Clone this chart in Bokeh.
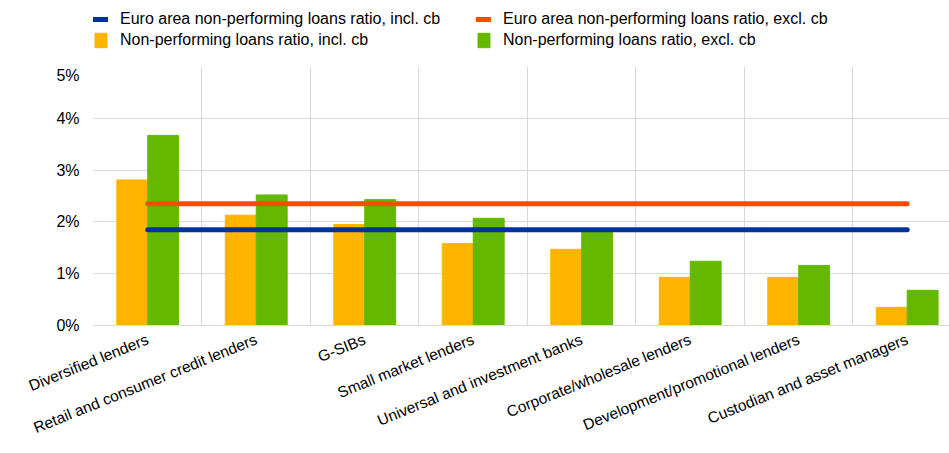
import math
from bokeh.plotting import figure
from bokeh.layouts import column
from bokeh.models import (Range1d, FixedTicker, PrintfTickFormatter, Legend, LegendItem,
                          ColumnDataSource)
from bokeh.embed import file_html
from bokeh.resources import INLINE

categories = ["Diversified lenders", "Retail and consumer credit lenders", "G-SIBs",
              "Small market lenders", "Universal and investment banks",
              "Corporate/wholesale lenders", "Development/promotional lenders",
              "Custodian and asset managers"]
npl_incl = [2.81, 2.13, 1.95, 1.58, 1.47, 0.93, 0.93, 0.35]
npl_excl = [3.67, 2.52, 2.43, 2.07, 1.82, 1.24, 1.16, 0.68]
ea_incl = 1.85
ea_excl = 2.35
y_ticks = [0, 1, 2, 3, 4, 5]
series_labels = ["Euro area non-performing loans ratio, incl. cb",
                 "Euro area non-performing loans ratio, excl. cb",
                 "Non-performing loans ratio, incl. cb",
                 "Non-performing loans ratio, excl. cb"]

FONT = "Liberation Sans"
GRID = "#d9d9d9"
C_EA_INCL, C_EA_EXCL, C_INCL, C_EXCL = "#003299", "#FF4B00", "#FFB400", "#65B800"
n = len(categories)
idx = list(range(n))
bar_w = 0.285

src = ColumnDataSource(dict(
    x_incl=[i + 0.5 - bar_w / 2 for i in idx],
    x_excl=[i + 0.5 + bar_w / 2 for i in idx],
    incl=npl_incl, excl=npl_excl))
line_x = [0.5, n - 0.5]


def draw(fig):
    """Draw the four series into a figure; returns their renderers."""
    rb1 = fig.vbar(x="x_incl", top="incl", width=bar_w, source=src,
                   fill_color=C_INCL, line_color=C_INCL)
    rb2 = fig.vbar(x="x_excl", top="excl", width=bar_w, source=src,
                   fill_color=C_EXCL, line_color=C_EXCL)
    rl1 = fig.line(x=line_x, y=[ea_incl] * 2, line_color=C_EA_INCL, line_width=5,
                   line_cap="round")
    rl2 = fig.line(x=line_x, y=[ea_excl] * 2, line_color=C_EA_EXCL, line_width=5,
                   line_cap="round")
    return rl1, rl2, rb1, rb2


p = figure(width=949, height=387, output_backend="svg", toolbar_location=None,
           x_range=Range1d(0, 7.89), y_range=Range1d(0, 5),
           min_border_left=93, min_border_right=0, min_border_top=0, min_border_bottom=128)
p.outline_line_color = None
draw(p)

# axes
p.xaxis.ticker = FixedTicker(ticks=[i + 0.5 for i in idx])
p.xaxis.major_label_overrides = {i + 0.5: c for i, c in zip(idx, categories)}
p.xaxis.major_label_orientation = math.radians(22)
p.xaxis.axis_line_color = GRID
p.xaxis.major_tick_line_color = None
p.xaxis.minor_tick_line_color = None
p.xaxis.major_tick_out = 0
p.xaxis.major_label_standoff = 13
p.xaxis.major_label_text_font = FONT
p.xaxis.major_label_text_font_size = "15.5px"
p.xaxis.major_label_text_color = "black"

p.yaxis.ticker = FixedTicker(ticks=y_ticks)
p.yaxis.formatter = PrintfTickFormatter(format="%d%%")
p.yaxis.axis_line_color = None
p.yaxis.major_tick_line_color = None
p.yaxis.minor_tick_line_color = None
p.yaxis.major_tick_out = 0
p.yaxis.major_label_standoff = 14
p.yaxis.major_label_text_font = FONT
p.yaxis.major_label_text_font_size = "16px"
p.yaxis.major_label_text_color = "black"

p.xgrid.ticker = FixedTicker(ticks=list(range(n + 1)))
p.xgrid.grid_line_color = GRID
p.ygrid.grid_line_color = GRID

# legend strip above the chart (its own copies of the series lie outside its view)
lg = figure(width=949, height=66, output_backend="svg", toolbar_location=None,
            x_range=Range1d(-20, -19), y_range=Range1d(-20, -19),
            x_axis_location=None, y_axis_location=None,
            min_border_left=93, min_border_right=0, min_border_top=0, min_border_bottom=0)
lg.outline_line_color = None
lg.grid.visible = False
g = draw(lg)

legend = Legend(items=[LegendItem(label=l, renderers=[r]) for l, r in zip(series_labels, g)],
                orientation="horizontal", ncols=2, location=(0, 16),
                padding=0, margin=0, spacing=1,
                glyph_width=15, glyph_height=18, label_height=20, label_width=355,
                label_standoff=12, label_text_font=FONT, label_text_font_size="16px",
                label_text_color="black", border_line_color=None,
                background_fill_color=None)
lg.add_layout(legend, "center")

layout = column(lg, p, spacing=0)
open("out.html", "w").write(file_html(layout, INLINE))
